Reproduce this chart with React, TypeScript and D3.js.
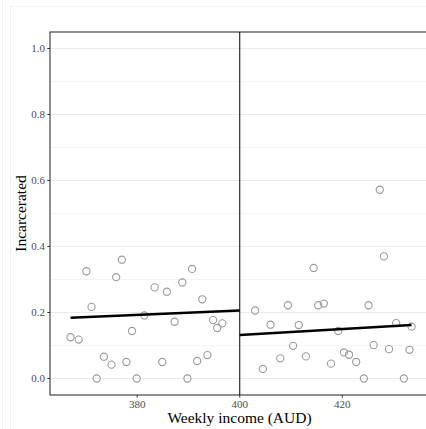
import React from "react";
import * as d3 from "d3";

// weekly income (AUD) and share incarcerated
const incomeLeft = [367.0, 368.6, 370.1, 371.1, 372.1, 373.5, 375.0, 375.9, 377.0, 377.9, 379.0, 379.9, 381.4, 383.4, 384.9, 385.8, 387.3, 388.8, 389.8, 390.7, 391.7, 392.7, 393.7, 394.8, 395.6, 396.6];
const incLeft = [0.125, 0.118, 0.325, 0.217, 0.0, 0.066, 0.042, 0.307, 0.36, 0.05, 0.144, 0.0, 0.191, 0.276, 0.05, 0.263, 0.172, 0.291, 0.0, 0.332, 0.053, 0.24, 0.071, 0.177, 0.153, 0.167];

const incomeRight = [403.0, 404.5, 406.0, 407.9, 409.4, 410.4, 411.5, 412.9, 414.4, 415.3, 416.4, 417.8, 419.2, 420.3, 421.3, 422.7, 424.2, 425.1, 426.1, 427.3, 428.1, 429.1, 430.5, 432.0, 433.1, 433.5];
const incRight = [0.206, 0.029, 0.163, 0.061, 0.222, 0.099, 0.162, 0.067, 0.335, 0.222, 0.227, 0.045, 0.144, 0.079, 0.072, 0.05, 0.0, 0.222, 0.101, 0.572, 0.37, 0.089, 0.168, 0.0, 0.087, 0.157];

// fitted line end points either side of the cutoff
const fitLeftX = [367.0, 400];
const fitLeftY = [0.184, 0.206];
const fitRightX = [400, 433.5];
const fitRightY = [0.132, 0.162];

const cutoff = 400;
const xTicks = [380, 400, 420];
const yTicks = [0, 0.2, 0.4, 0.6, 0.8, 1.0];
const yMinor = [0.1, 0.3, 0.5, 0.7, 0.9];

export default function App() {
  const width = 426;
  const height = 429;
  const margin = { top: 32, right: -3, bottom: 34, left: 50 };
  const font = "'Liberation Serif', 'DejaVu Serif', serif";

  const x = d3
    .scaleLinear()
    .domain([363, 436.9])
    .range([margin.left, width - margin.right]);
  const y = d3
    .scaleLinear()
    .domain([-0.05, 1.05])
    .range([height - margin.bottom, margin.top]);

  const line = d3
    .line<[number, number]>()
    .x((d) => x(d[0]))
    .y((d) => y(d[1]));

  const pts = [
    ...incomeLeft.map((v, i) => [v, incLeft[i]]),
    ...incomeRight.map((v, i) => [v, incRight[i]]),
  ];
  const fitL = fitLeftX.map((v, i) => [v, fitLeftY[i]] as [number, number]);
  const fitR = fitRightX.map((v, i) => [v, fitRightY[i]] as [number, number]);

  const x0 = x.range()[0];
  const x1 = x.range()[1];
  const y0 = y.range()[0];
  const y1 = y.range()[1];

  return (
    <svg
      width={width}
      height={height}
      style={{ position: "absolute", left: 0, top: 0, background: "white" }}
    >
      {/* faint outer frame */}
      <line x1={2.5} x2={2.5} y1={0} y2={height} stroke="#f2f2f2" />
      <line x1={10.5} x2={10.5} y1={6} y2={height} stroke="#f0f0f0" />
      <line x1={10.5} x2={width} y1={6.5} y2={6.5} stroke="#f4f4f4" />

      {yMinor.map((t) => (
        <line key={"m" + t} x1={x0} x2={x1} y1={y(t)} y2={y(t)} stroke="#ededed" strokeWidth={0.6} />
      ))}
      {yTicks.map((t) => (
        <line key={"g" + t} x1={x0} x2={x1} y1={y(t)} y2={y(t)} stroke="#ebebeb" strokeWidth={1.1} />
      ))}

      <rect x={x0} y={y1} width={x1 - x0} height={y0 - y1} fill="none" stroke="#333" strokeWidth={1.1} />

      <line x1={x(cutoff)} x2={x(cutoff)} y1={y1} y2={y0} stroke="black" strokeWidth={1} />

      {pts.map((d, i) => (
        <circle key={i} cx={x(d[0])} cy={y(d[1])} r={3.6} fill="none" stroke="#9a9a9a" strokeWidth={1.1} />
      ))}

      <path d={line(fitL) || ""} fill="none" stroke="black" strokeWidth={2.6} />
      <path d={line(fitR) || ""} fill="none" stroke="black" strokeWidth={2.6} />

      {yTicks.map((t) => (
        <g key={"y" + t}>
          <line x1={x0 - 2.7} x2={x0} y1={y(t)} y2={y(t)} stroke="#333" strokeWidth={1} />
          <text x={x0 - 5} y={y(t)} dy="0.35em" textAnchor="end" fontFamily={font} fontSize={11} fill="#4d4d4d">
            {t.toFixed(1)}
          </text>
        </g>
      ))}
      {xTicks.map((t) => (
        <g key={"x" + t}>
          <line x1={x(t)} x2={x(t)} y1={y0} y2={y0 + 2.7} stroke="#333" strokeWidth={1} />
          <text x={x(t)} y={y0 + 13} textAnchor="middle" fontFamily={font} fontSize={11} fill="#4d4d4d">
            {t}
          </text>
        </g>
      ))}

      <text x={(x0 + x1) / 2} y={423} textAnchor="middle" fontFamily={font} fontSize={15.5} fill="black">
        Weekly income (AUD)
      </text>
      <text
        transform={`translate(26,${(y0 + y1) / 2}) rotate(-90)`}
        textAnchor="middle"
        fontFamily={font}
        fontSize={15.5}
        fill="black"
      >
        Incarcerated
      </text>
    </svg>
  );
}
